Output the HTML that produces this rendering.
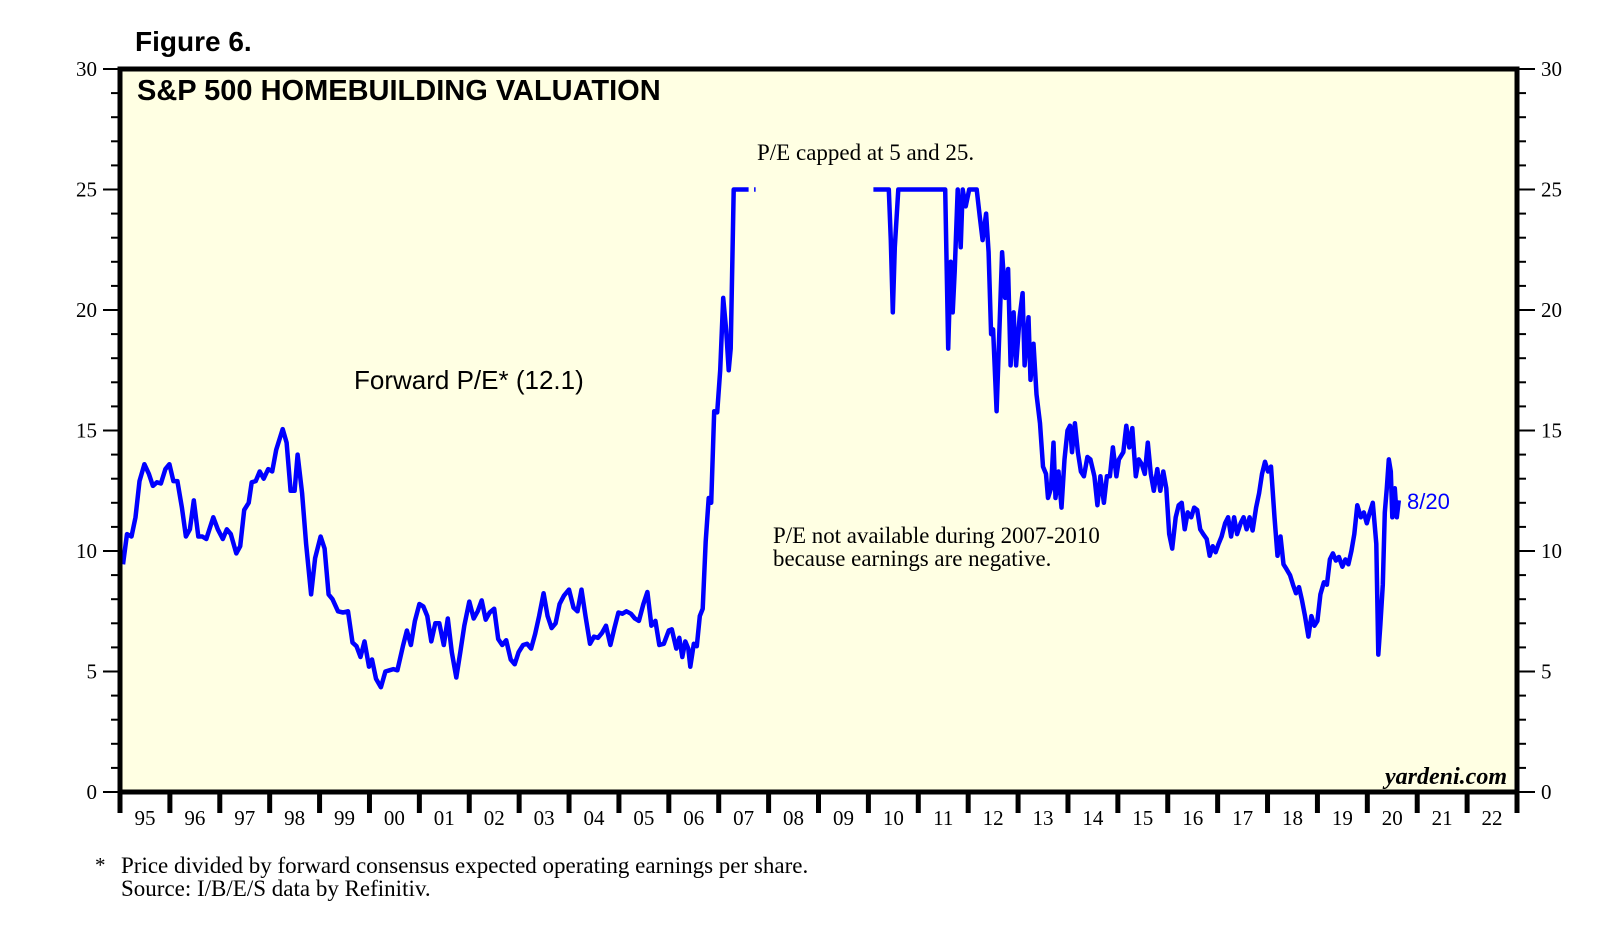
<!DOCTYPE html>
<html><head><meta charset="utf-8"><style>
html,body{margin:0;padding:0;background:#fff;}
svg{display:block;}
.ser{font-family:"Liberation Serif",serif;}
.san{font-family:"Liberation Sans",sans-serif;}
</style></head><body>
<svg id="chart" width="1610" height="938" viewBox="0 0 1610 938">
<text x="135" y="51" class="san" font-size="28" font-weight="bold">Figure 6.</text>
<rect x="120" y="69" width="1397" height="723" fill="#ffffe3"/>
<g id="axes"></g>
<g id="series"></g>
<rect x="120" y="69" width="1397" height="723" fill="none" stroke="#000" stroke-width="5"/>
<text x="137" y="100" class="san" font-size="29" font-weight="bold">S&amp;P 500 HOMEBUILDING VALUATION</text>
<text x="757" y="160" class="ser" font-size="23">P/E capped at 5 and 25.</text>
<text x="354" y="389" class="san" font-size="26">Forward P/E* (12.1)</text>
<text x="773" y="543" class="ser" font-size="22.9">P/E not available during 2007-2010</text>
<text x="773" y="566" class="ser" font-size="22.9">because earnings are negative.</text>
<text x="1407" y="509" class="san" font-size="22" fill="#0000ff">8/20</text>
<text x="1507" y="784" class="ser" font-size="24" font-style="italic" font-weight="bold" text-anchor="end">yardeni.com</text>
<text x="95" y="872" class="ser" font-size="21">*</text>
<text x="121" y="873" class="ser" font-size="23">Price divided by forward consensus expected operating earnings per share.</text>
<text x="121" y="896" class="ser" font-size="23">Source: I/B/E/S data by Refinitiv.</text>
</svg>
<script>
const yTicks=[0,5,10,15,20,25,30];
const yearLabels=["95","96","97","98","99","00","01","02","03","04","05","06","07","08","09","10","11","12","13","14","15","16","17","18","19","20","21","22"];
const dates=[1995.06,1995.14,1995.23,1995.31,1995.39,1995.49,1995.58,1995.66,1995.74,1995.82,1995.91,1995.99,1996.07,1996.15,1996.24,1996.32,1996.40,1996.48,1996.57,1996.65,1996.73,1996.87,1996.96,1997.06,1997.14,1997.22,1997.33,1997.41,1997.49,1997.58,1997.64,1997.72,1997.80,1997.88,1997.97,1998.05,1998.13,1998.26,1998.34,1998.42,1998.50,1998.56,1998.65,1998.73,1998.83,1998.91,1999.02,1999.10,1999.18,1999.26,1999.37,1999.47,1999.57,1999.66,1999.74,1999.82,1999.90,1999.99,2000.05,2000.13,2000.23,2000.32,2000.40,2000.48,2000.56,2000.67,2000.75,2000.83,2000.91,2001.00,2001.08,2001.16,2001.24,2001.32,2001.40,2001.49,2001.57,2001.65,2001.74,2001.82,2001.90,2002.00,2002.09,2002.17,2002.25,2002.33,2002.41,2002.50,2002.58,2002.66,2002.74,2002.83,2002.91,2002.99,2003.08,2003.16,2003.24,2003.32,2003.40,2003.49,2003.57,2003.65,2003.73,2003.81,2003.90,2004.00,2004.09,2004.17,2004.25,2004.33,2004.42,2004.50,2004.58,2004.66,2004.74,2004.83,2004.91,2004.99,2005.07,2005.15,2005.24,2005.32,2005.40,2005.49,2005.57,2005.65,2005.73,2005.81,2005.90,2006.00,2006.06,2006.15,2006.21,2006.27,2006.33,2006.39,2006.43,2006.50,2006.56,2006.62,2006.68,2006.74,2006.80,2006.85,2006.91,2006.97,2007.03,2007.09,2007.15,2007.20,2007.24,2007.30,2007.60,2007.64,2007.71,2007.74,
2010.10,2010.41,2010.45,2010.49,2010.53,2010.60,2011.54,2011.60,2011.65,2011.69,2011.73,2011.79,2011.85,2011.89,2011.95,2012.02,2012.17,2012.23,2012.29,2012.36,2012.41,2012.46,2012.50,2012.57,2012.62,2012.68,2012.74,2012.80,2012.85,2012.91,2012.96,2013.03,2013.09,2013.13,2013.21,2013.25,2013.31,2013.37,2013.44,2013.50,2013.56,2013.60,2013.66,2013.71,2013.75,2013.81,2013.87,2013.93,2013.99,2014.04,2014.08,2014.14,2014.20,2014.26,2014.32,2014.39,2014.45,2014.53,2014.59,2014.65,2014.72,2014.78,2014.84,2014.90,2014.97,2015.02,2015.11,2015.17,2015.23,2015.29,2015.36,2015.42,2015.48,2015.54,2015.60,2015.66,2015.72,2015.79,2015.85,2015.91,2015.97,2016.03,2016.09,2016.16,2016.22,2016.28,2016.34,2016.40,2016.47,2016.53,2016.59,2016.65,2016.71,2016.78,2016.84,2016.90,2016.96,2017.02,2017.08,2017.15,2017.21,2017.27,2017.33,2017.39,2017.46,2017.52,2017.58,2017.64,2017.70,2017.77,2017.83,2017.89,2017.95,2018.01,2018.07,2018.14,2018.20,2018.26,2018.32,2018.38,2018.45,2018.51,2018.57,2018.63,2018.69,2018.75,2018.82,2018.88,2018.94,2019.00,2019.06,2019.13,2019.19,2019.25,2019.31,2019.37,2019.43,2019.50,2019.56,2019.62,2019.68,2019.74,2019.80,2019.87,2019.93,2019.99,2020.05,2020.11,2020.18,2020.22,2020.26,2020.31,2020.35,2020.39,2020.43,2020.47,2020.50,2020.55,2020.59,2020.63];
const pe=[9.45,10.7,10.6,11.4,12.9,13.6,13.2,12.7,12.85,12.8,13.4,13.6,12.9,12.9,11.8,10.6,10.9,12.1,10.6,10.6,10.5,11.4,10.9,10.5,10.9,10.7,9.9,10.2,11.7,12.0,12.85,12.9,13.3,13.0,13.4,13.3,14.2,15.06,14.5,12.5,12.5,14.0,12.4,10.3,8.2,9.7,10.6,10.1,8.2,8.0,7.5,7.45,7.5,6.2,6.05,5.6,6.25,5.2,5.5,4.7,4.35,5.0,5.05,5.1,5.05,6.05,6.7,6.1,7.1,7.8,7.7,7.3,6.25,7.0,7.0,6.1,7.2,5.8,4.75,5.8,6.9,7.9,7.2,7.5,7.95,7.15,7.45,7.6,6.35,6.1,6.3,5.5,5.3,5.8,6.1,6.15,5.95,6.55,7.3,8.25,7.3,6.8,7.0,7.8,8.15,8.4,7.65,7.5,8.4,7.3,6.15,6.45,6.4,6.6,6.9,6.1,6.8,7.45,7.4,7.5,7.4,7.2,7.1,7.8,8.3,6.9,7.1,6.1,6.15,6.7,6.75,5.95,6.4,5.6,6.25,5.95,5.2,6.15,6.05,7.3,7.6,10.4,12.2,12.0,15.8,15.75,17.5,20.5,19.15,17.5,18.4,25,25,null,25,25,
25,25,22.9,19.9,22.6,25,25,18.4,22.0,19.9,21.6,25,22.6,25,24.3,25,25,23.9,22.9,24.0,22.4,19.0,19.2,15.8,18.8,22.4,20.5,21.7,17.7,19.9,17.7,19.7,20.7,17.7,19.7,17.1,18.6,16.5,15.3,13.5,13.2,12.2,12.6,14.5,12.2,13.3,11.8,13.8,15.0,15.2,14.1,15.3,14.1,13.3,13.1,13.9,13.8,13.1,11.9,13.1,12.0,13.1,13.1,14.3,13.1,13.8,14.1,15.2,14.3,15.1,13.1,13.8,13.6,13.2,14.5,13.2,12.5,13.4,12.5,13.3,12.6,10.7,10.1,11.4,11.9,12.0,10.9,11.6,11.4,11.8,11.7,10.9,10.7,10.5,9.8,10.2,9.95,10.3,10.6,11.15,11.4,10.6,11.4,10.7,11.15,11.4,10.9,11.4,10.85,11.8,12.4,13.2,13.7,13.3,13.5,11.4,9.8,10.6,9.45,9.25,9.0,8.6,8.25,8.5,7.95,7.3,6.45,7.3,6.9,7.1,8.2,8.7,8.6,9.65,9.9,9.6,9.75,9.35,9.65,9.45,10.0,10.7,11.9,11.4,11.6,11.15,11.6,12.0,10.3,5.7,6.9,8.6,11.6,12.6,13.8,13.3,11.4,12.6,11.4,12.1];
const gapAfter=2007.75;
const NS='http://www.w3.org/2000/svg';
const X0=120,X1=1517,Y0=792,Y1=69,startYear=1995,endYear=2023,yMax=30;
function xs(t){return X0+(t-startYear)*(X1-X0)/(endYear-startYear);}
function ys(v){return Y0-v*(Y0-Y1)/yMax;}
const axes=document.getElementById('axes');
function mk(tag,attrs,parent){const e=document.createElementNS(NS,tag);for(const k in attrs)e.setAttribute(k,attrs[k]);parent.appendChild(e);return e;}
for(let v=0;v<=yMax;v++){
  const y=ys(v),maj=v%5===0;
  const l=mk('line',{x1:maj?103:111,x2:X0,y1:y,y2:y,stroke:'#000','stroke-width':2},axes);
  
  
  const r=mk('line',{x1:X1,x2:maj?1535:1526,y1:y,y2:y,stroke:'#000','stroke-width':2},axes);
  
  
}
yTicks.forEach(v=>{
  const a=mk('text',{x:97,y:ys(v)+7,'text-anchor':'end','font-size':21,'font-family':'Liberation Serif, serif'},axes);
  a.textContent=v;
  
  
  const b=mk('text',{x:1541,y:ys(v)+7,'font-size':21,'font-family':'Liberation Serif, serif'},axes);
  b.textContent=v;
  
  
});
for(let i=0;i<=yearLabels.length;i++){
  const x=xs(startYear+i);
  const t=mk('line',{x1:x,x2:x,y1:Y0,y2:813,stroke:'#000','stroke-width':5},axes);
  
  
}
yearLabels.forEach((lab,i)=>{
  const t=mk('text',{x:xs(startYear+i+0.5),y:825,'text-anchor':'middle','font-size':21,'font-family':'Liberation Serif, serif'},axes);
  t.textContent=lab;
  
  
});
let d='',pen=false;
for(let i=0;i<dates.length;i++){
  const v=pe[i];
  if(v===null||(i>0&&dates[i-1]<gapAfter&&dates[i]>gapAfter)){pen=false;if(v===null)continue;}
  d+=(pen?'L':'M')+xs(dates[i]).toFixed(1)+' '+ys(v).toFixed(1)+' ';pen=true;
}
const p=mk('path',{d:d,fill:'none',stroke:'#0000ff','stroke-width':4.5,'stroke-linejoin':'round'},document.getElementById('series'));


</script>
</body></html>
